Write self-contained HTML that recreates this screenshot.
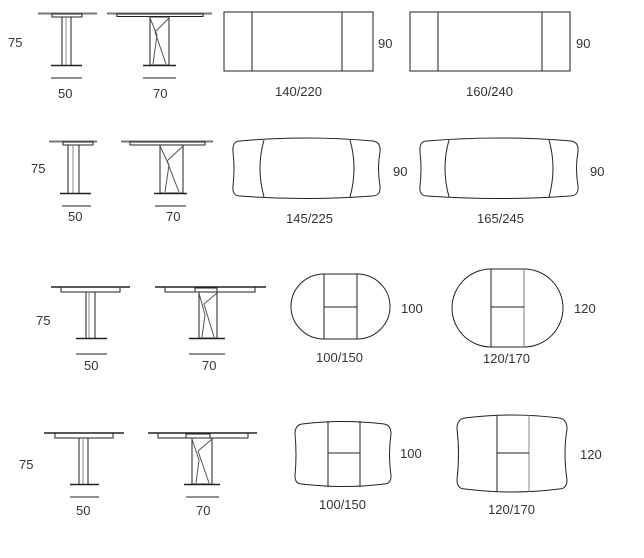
<!DOCTYPE html>
<html><head><style>
html,body{margin:0;padding:0;background:#fff;}
svg{display:block;}
text{font-family:"Liberation Sans",sans-serif;font-size:13px;fill:#333;}
</style></head><body>
<svg width="644" height="558" viewBox="0 0 644 558" xmlns="http://www.w3.org/2000/svg" fill="none" stroke="#222" stroke-width="1">
<!-- ROW 1 -->
<text x="8" y="47" stroke="none">75</text>
<line x1="38" y1="13.5" x2="97" y2="13.5" stroke="#777" stroke-width="2"/>
<rect x="52" y="14" width="30" height="3"/>
<line x1="62" y1="17" x2="62" y2="65"/><line x1="66" y1="17" x2="66" y2="65" stroke="#888"/><line x1="71" y1="17" x2="71" y2="65"/>
<line x1="51" y1="65.5" x2="82" y2="65.5" stroke-width="1.5"/>
<line x1="51" y1="78" x2="82" y2="78"/>
<text x="58" y="98" stroke="none" font-size="12">50</text>
<line x1="107" y1="13.5" x2="212" y2="13.5" stroke="#777" stroke-width="2"/>
<rect x="117" y="14" width="86" height="2.5"/>
<rect x="150" y="17" width="19" height="48"/>
<polyline points="150,18 157,35 153,64" stroke="#555"/><polyline points="169,18 155,32 166,64" stroke="#555"/>
<line x1="143" y1="65.5" x2="176" y2="65.5" stroke-width="1.5"/>
<line x1="143" y1="78" x2="176" y2="78"/>
<text x="153" y="98" stroke="none" font-size="12">70</text>
<rect x="224" y="12" width="149" height="59"/>
<line x1="252" y1="12" x2="252" y2="71"/><line x1="342" y1="12" x2="342" y2="71"/>
<text x="378" y="48" stroke="none">90</text>
<text x="275" y="96" stroke="none">140/220</text>
<rect x="410" y="12" width="160" height="59"/>
<line x1="438" y1="12" x2="438" y2="71"/><line x1="542" y1="12" x2="542" y2="71"/>
<text x="576" y="48" stroke="none">90</text>
<text x="466" y="96" stroke="none">160/240</text>
<!-- ROW 2 -->
<text x="31" y="173" stroke="none">75</text>
<line x1="49" y1="141.5" x2="97" y2="141.5" stroke="#777" stroke-width="2"/>
<rect x="63" y="142" width="30" height="3"/>
<line x1="68" y1="145" x2="68" y2="193"/><line x1="73" y1="145" x2="73" y2="193" stroke="#888"/><line x1="79" y1="145" x2="79" y2="193"/>
<line x1="60" y1="193.5" x2="91" y2="193.5" stroke-width="1.5"/>
<line x1="62" y1="206" x2="91" y2="206"/>
<text x="68" y="221" stroke="none" font-size="12">50</text>
<line x1="121" y1="141.5" x2="213" y2="141.5" stroke="#777" stroke-width="2"/>
<rect x="130" y="142" width="75" height="3"/>
<rect x="160" y="145" width="23" height="48"/>
<polyline points="160,146 169,165 165,192" stroke="#555"/><polyline points="183,146 167,161 179,192" stroke="#555"/>
<line x1="154" y1="193.5" x2="187" y2="193.5" stroke-width="1.5"/>
<line x1="155" y1="206" x2="186" y2="206"/>
<text x="166" y="221" stroke="none" font-size="12">70</text>
<path d="M240,141 Q306,135 373,141 Q381,142 380,152 Q377,168 380,186 Q381,196 372,196 Q306,201 240,196 Q232,196 233,186 Q235,168 233,152 Q232,141 240,141 Z"/>
<path d="M264,140 Q256,168 264,197"/><path d="M350,140 Q358,168 350,197"/>
<text x="393" y="176" stroke="none">90</text>
<text x="286" y="223" stroke="none">145/225</text>
<path d="M427,141 Q499,135 571,141 Q579,142 578,152 Q575,168 578,186 Q579,196 570,196 Q499,201 427,196 Q419,196 420,186 Q422,168 420,152 Q419,141 427,141 Z"/>
<path d="M449,140 Q441,168 449,197"/><path d="M549,140 Q557,168 549,197"/>
<text x="590" y="176" stroke="none">90</text>
<text x="477" y="223" stroke="none">165/245</text>
<!-- ROW 3 -->
<text x="36" y="325" stroke="none">75</text>
<line x1="51" y1="287" x2="130" y2="287" stroke-width="1.5"/>
<rect x="61" y="287" width="59" height="5"/>
<line x1="86" y1="292" x2="86" y2="338"/><line x1="89" y1="292" x2="89" y2="338" stroke="#888"/><line x1="95" y1="292" x2="95" y2="338"/>
<line x1="76" y1="338.5" x2="107" y2="338.5" stroke-width="1.5"/>
<line x1="76" y1="354" x2="107" y2="354"/>
<text x="84" y="370" stroke="none" font-size="12">50</text>
<line x1="155" y1="287" x2="266" y2="287" stroke-width="1.5"/>
<rect x="165" y="287" width="90" height="5"/>
<rect x="195" y="288" width="22" height="4"/>
<rect x="199" y="292" width="18" height="46"/>
<polyline points="199,293 205,315 202,337" stroke="#555"/><polyline points="217,293 204,304 214,337" stroke="#555"/>
<line x1="189" y1="338.5" x2="225" y2="338.5" stroke-width="1.5"/>
<line x1="189" y1="354" x2="225" y2="354"/>
<text x="202" y="370" stroke="none" font-size="12">70</text>
<path d="M324,274 L357,274 A33,32.5 0 0 1 357,339 L324,339 A33,32.5 0 0 1 324,274 Z"/>
<line x1="324" y1="274" x2="324" y2="339"/><line x1="357" y1="274" x2="357" y2="339"/><line x1="324" y1="307" x2="357" y2="307"/>
<text x="401" y="313" stroke="none">100</text>
<text x="316" y="362" stroke="none">100/150</text>
<path d="M491,269 L524,269 A39,39 0 0 1 524,347 L491,347 A39,39 0 0 1 491,269 Z"/>
<line x1="491" y1="269" x2="491" y2="347"/><line x1="524" y1="269" x2="524" y2="347" stroke="#777"/><line x1="491" y1="307" x2="524" y2="307"/>
<text x="574" y="313" stroke="none">120</text>
<text x="483" y="363" stroke="none">120/170</text>
<!-- ROW 4 -->
<text x="19" y="469" stroke="none">75</text>
<line x1="44" y1="433" x2="124" y2="433" stroke-width="1.5"/>
<rect x="55" y="433" width="58" height="5"/>
<line x1="79" y1="438" x2="79" y2="484"/><line x1="83" y1="438" x2="83" y2="484" stroke="#888"/><line x1="88" y1="438" x2="88" y2="484"/>
<line x1="70" y1="484.5" x2="99" y2="484.5" stroke-width="1.5"/>
<line x1="70" y1="497" x2="99" y2="497"/>
<text x="76" y="515" stroke="none" font-size="12">50</text>
<line x1="148" y1="433" x2="257" y2="433" stroke-width="1.5"/>
<rect x="158" y="433" width="90" height="5"/>
<rect x="186" y="434" width="24" height="4"/>
<rect x="192" y="438" width="20" height="46"/>
<polyline points="192,439 199,460 196,483" stroke="#555"/><polyline points="212,439 198,451 209,483" stroke="#555"/>
<line x1="184" y1="484.5" x2="220" y2="484.5" stroke-width="1.5"/>
<line x1="186" y1="497" x2="219" y2="497"/>
<text x="196" y="515" stroke="none" font-size="12">70</text>
<path d="M302,424 Q343,419 384,424 Q391,425 391,434 Q388,454 391,476 Q391,484 384,484 Q343,489 302,484 Q295,484 295,476 Q297,454 295,434 Q295,425 302,424 Z"/>
<line x1="328" y1="421" x2="328" y2="487"/><line x1="360" y1="421" x2="360" y2="487"/><line x1="328" y1="453" x2="360" y2="453"/>
<text x="400" y="458" stroke="none">100</text>
<text x="319" y="509" stroke="none">100/150</text>
<path d="M465,418 Q512,412 559,418 Q567,419 567,429 Q563,453 567,480 Q567,489 559,489 Q512,495 465,489 Q457,489 457,480 Q460,453 457,429 Q457,419 465,418 Z"/>
<line x1="497" y1="415" x2="497" y2="492"/><line x1="529" y1="415" x2="529" y2="492" stroke="#888"/><line x1="497" y1="453" x2="529" y2="453"/>
<text x="580" y="459" stroke="none">120</text>
<text x="488" y="514" stroke="none">120/170</text>
</svg>
</body></html>
